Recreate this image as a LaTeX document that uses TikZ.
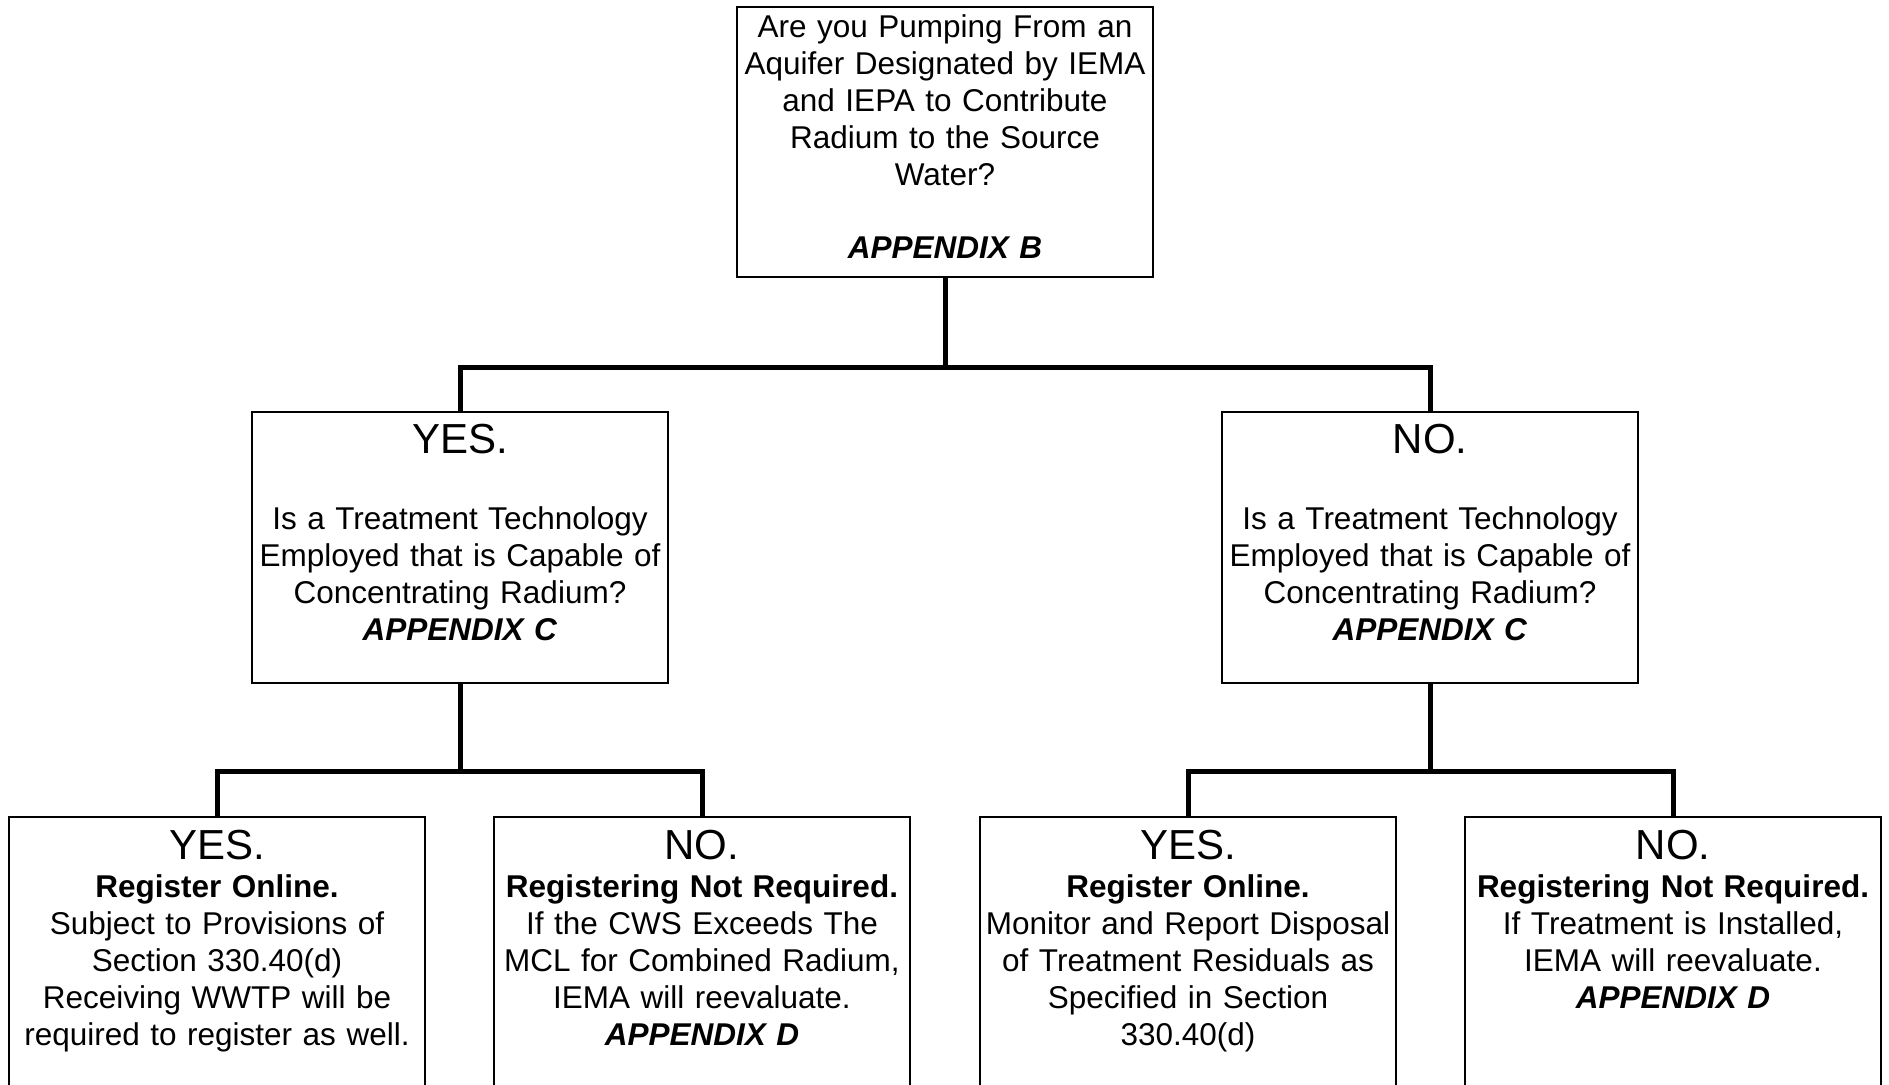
\documentclass[tikz,border=0pt]{standalone}
\usepackage{fontspec}
\setmainfont{Liberation Sans}
\usepackage{tikz}
\usetikzlibrary{
  calc,%
  positioning
}
\tikzset{box/.style={draw, line width=2pt, minimum width=416pt, inner sep=0pt}}
\tikzset{conn/.style={line width=5pt}}
\tikzset{txt/.style={text width=420pt, align=center, inner sep=0pt,
    font=\fontsize{31.5}{37}\selectfont}}
\tikzset{head/.style={inner sep=0pt, font=\fontsize{42}{42}\selectfont}}
\newcommand{\appx}[1]{\textbf{\textit{#1}}}

\begin{document}
\begin{tikzpicture}[x=1pt, y=-1pt]
        \clip (0,0) rectangle (1889,1084); %
        % first question
        \node[box, minimum height=270pt] (aquifer) at (945,142) {}; %
        \node[txt, anchor=base] (aquifertext) at (945,37) {Are you Pumping From an\\
          Aquifer Designated by IEMA\\ and IEPA to Contribute\\ Radium to the Source\\
          Water?\\[36pt] \appx{APPENDIX B}}; %
        % second level
        \node[box, minimum height=271pt] (yes) at (460,547) {}; %
        \node[head, anchor=base] (yeshead) at (460,453) {YES.}; %
        \node[txt, anchor=base] (yestext) at (460,529) {Is a Treatment Technology\\
          Employed that is Capable of\\ Concentrating Radium?\\ \appx{APPENDIX C}}; %
        \node[box, minimum height=271pt] (no) at (1430,547) {}; %
        \node[head, anchor=base] (nohead) at (1430,453) {NO.}; %
        \node[txt, anchor=base] (notext) at (1430,529) {Is a Treatment Technology\\
          Employed that is Capable of\\ Concentrating Radium?\\ \appx{APPENDIX C}}; %
        % third level
        \node[box, minimum height=303pt] (yesyes) at (217,968) {}; %
        \node[head, anchor=base] (yesyeshead) at (217,859) {YES.}; %
        \node[txt, anchor=base] (yesyestext) at (217,897) {\textbf{Register Online.}\\
          Subject to Provisions of\\ Section 330.40(d)\\ Receiving WWTP will be\\
          required to register as well.}; %
        \node[box, minimum height=303pt] (yesno) at (702,968) {}; %
        \node[head, anchor=base] (yesnohead) at (702,859) {NO.}; %
        \node[txt, anchor=base] (yesnotext) at (702,897) {\textbf{Registering Not Required.}\\
          If the CWS Exceeds The\\ MCL for Combined Radium,\\ IEMA will reevaluate.\\
          \appx{APPENDIX D}}; %
        \node[box, minimum height=303pt] (noyes) at (1188,968) {}; %
        \node[head, anchor=base] (noyeshead) at (1188,859) {YES.}; %
        \node[txt, anchor=base] (noyestext) at (1188,897) {\textbf{Register Online.}\\
          Monitor and Report Disposal\\ of Treatment Residuals as\\ Specified in Section\\
          330.40(d)}; %
        \node[box, minimum height=303pt] (nono) at (1673,968) {}; %
        \node[head, anchor=base] (nonohead) at (1673,859) {NO.}; %
        \node[txt, anchor=base] (nonotext) at (1673,897) {\textbf{Registering Not Required.}\\
          If Treatment is Installed,\\ IEMA will reevaluate.\\ \appx{APPENDIX D}}; %
        % connectors
        \draw[conn] (aquifer.south) -- ++(0,89) -| (yes.north); %
        \draw[conn] (aquifer.south) -- ++(0,89) -| (no.north); %
        \draw[conn] (yes.south) -- ++(0,88) -| (yesyes.north); %
        \draw[conn] (yes.south) -- ++(0,88) -| (yesno.north); %
        \draw[conn] (no.south) -- ++(0,88) -| (noyes.north); %
        \draw[conn] (no.south) -- ++(0,88) -| (nono.north); %
      \end{tikzpicture}
\end{document}
